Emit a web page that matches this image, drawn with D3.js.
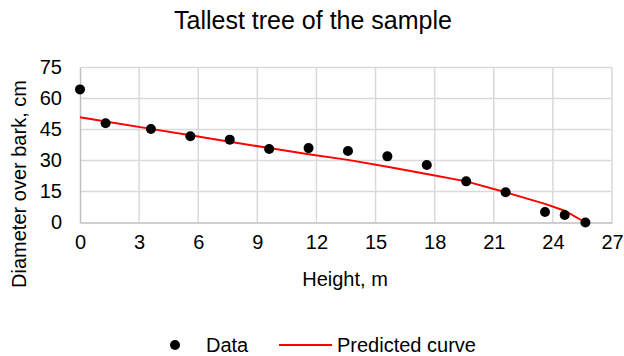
<!DOCTYPE html>
<html lang="en">
<head>
  <meta charset="UTF-8">
  <title>Tallest tree of the sample</title>
  <script src="https://cdn.jsdelivr.net/npm/d3@7"></script>
  <style>
    body { margin: 0; background: #fff; }
    text { font-family: Arial, "Liberation Sans", sans-serif; fill: #000; }
    .grid line { stroke: #d9d9d9; stroke-width: 1.5px; }
    .axis-line { stroke: #bfbfbf; stroke-width: 1.5px; }
  </style>
</head>
<body>
<svg width="624" height="356"></svg>
<script>
// data
var heights   = [0, 1.3, 3.6, 5.6, 7.6, 9.6, 11.6, 13.6, 15.6, 17.6, 19.6, 21.6, 23.6, 24.6, 25.65];
var diameters = [64.4, 48.0, 45.2, 41.7, 40.1, 35.6, 36.0, 34.6, 32.0, 27.8, 19.9, 14.6, 5.1, 3.6, 0];
var predicted = [50.9, 48.9, 45.3, 42.2, 39.1, 36.0, 33.0, 30.3, 27.0, 23.5, 19.9, 14.6, 9.0, 5.7, 0];
var xTicks = [0, 3, 6, 9, 12, 15, 18, 21, 24, 27];
var yTicks = [0, 15, 30, 45, 60, 75];

var svg = d3.select("svg");

var x = d3.scaleLinear().domain([0, 27]).range([80, 612]);
var y = d3.scaleLinear().domain([0, 75]).range([222.5, 67.5]);

// title
svg.append("text")
    .attr("x", 313).attr("y", 29)
    .attr("text-anchor", "middle")
    .style("font-size", "25px")
    .text("Tallest tree of the sample");

// gridlines
var grid = svg.append("g").attr("class", "grid");
grid.selectAll(".h").data(yTicks.slice(1)).enter().append("line")
    .attr("x1", x(0)).attr("x2", x(27))
    .attr("y1", d => y(d)).attr("y2", d => y(d));
grid.selectAll(".v").data(xTicks.slice(1)).enter().append("line")
    .attr("x1", d => x(d)).attr("x2", d => x(d))
    .attr("y1", y(0)).attr("y2", y(75));

// axes (no tick marks, gray domain)
var xAxis = svg.append("g")
    .attr("transform", "translate(0," + y(0) + ")")
    .call(d3.axisBottom(x).tickValues(xTicks).tickSize(0).tickPadding(12));
var yAxis = svg.append("g")
    .attr("transform", "translate(" + x(0) + ",0)")
    .call(d3.axisLeft(y).tickValues(yTicks).tickSize(0).tickPadding(18));

[xAxis, yAxis].forEach(function(a) {
  a.select(".domain").attr("class", "axis-line").attr("fill", "none");
  a.selectAll("text").style("font-size", "20px")
      .style("font-family", "Arial, 'Liberation Sans', sans-serif").attr("fill", "#000");
});

// axis titles
svg.append("text")
    .attr("x", 345).attr("y", 286)
    .attr("text-anchor", "middle")
    .style("font-size", "20px")
    .text("Height, m");

svg.append("text")
    .attr("transform", "translate(26,184) rotate(-90)")
    .attr("text-anchor", "middle")
    .style("font-size", "20px")
    .text("Diameter over bark, cm");

// predicted curve
var line = d3.line()
    .x((d, i) => x(heights[i]))
    .y(d => y(d));

svg.append("path")
    .datum(predicted)
    .attr("d", line)
    .attr("fill", "none")
    .attr("stroke", "#ff0000")
    .attr("stroke-width", 2);

// data points
svg.append("g").selectAll("circle")
    .data(diameters)
    .enter().append("circle")
    .attr("cx", (d, i) => x(heights[i]))
    .attr("cy", d => y(d))
    .attr("r", 5)
    .attr("fill", "#000");

// legend
var legend = svg.append("g");
legend.append("circle").attr("cx", 175).attr("cy", 345).attr("r", 5).attr("fill", "#000");
legend.append("text").attr("x", 206).attr("y", 352).style("font-size", "20px").text("Data");
legend.append("line")
    .attr("x1", 279).attr("x2", 332).attr("y1", 345).attr("y2", 345)
    .attr("stroke", "#ff0000").attr("stroke-width", 2);
legend.append("text").attr("x", 337).attr("y", 352).style("font-size", "20px").text("Predicted curve");
</script>
</body>
</html>
